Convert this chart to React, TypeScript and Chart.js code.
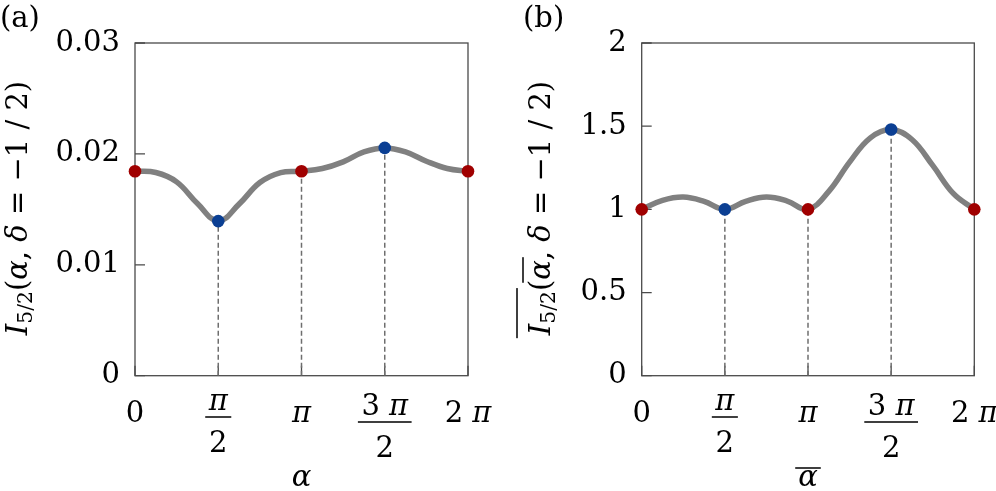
import React, { useEffect, useRef } from "react";
import { Chart, registerables } from "chart.js";

Chart.register(...registerables);

// ---------- data (α values in units of π) ----------
const ALPHA = [0, 0.125, 0.25, 0.375, 0.5, 0.625, 0.75, 0.875, 1, 1.125, 1.25, 1.375, 1.5, 1.625, 1.75, 1.875, 2];
const CURVE_A = [0.01844, 0.01832, 0.01748, 0.01553, 0.01394, 0.01547, 0.01742, 0.01832, 0.01844, 0.01868, 0.01928, 0.02018, 0.02054, 0.02018, 0.01934, 0.01868, 0.01844];
const CURVE_B = [1.0, 1.054, 1.074, 1.048, 1.0, 1.048, 1.074, 1.05, 1.0, 1.108, 1.284, 1.43, 1.48, 1.42, 1.264, 1.094, 1.0];

const RED_X = [0, 1, 2];
const RED_A = [0.01844, 0.01844, 0.01844];
const RED_B = [1.0, 1.0, 1.0];
const BLUE_X = [0.5, 1.5];
const BLUE_A = [0.01394, 0.02054];
const BLUE_B = [1.0, 1.48];
const DROP_X = [0.5, 1, 1.5];
const DROP_A = [0.01394, 0.01844, 0.02054];
const DROP_B = [1.0, 1.0, 1.48];

const X_TICKS = [0, 0.5, 1, 1.5, 2];
const X_TICK_NUM = ["0", "π", "π", "3 π", "2 π"];
const X_TICK_DEN = ["", "2", "", "2", ""];
const Y_TICKS_A = [0, 0.01, 0.02, 0.03];
const Y_LABELS_A = ["0", "0.01", "0.02", "0.03"];
const Y_TICKS_B = [0, 0.5, 1, 1.5, 2];
const Y_LABELS_B = ["0", "0.5", "1", "1.5", "2"];

// ---------- styling ----------
const FAM = '"DejaVu Serif", "Liberation Serif", serif';
const FS = 29;
const RED = "#a00000";
const BLUE = "#0b3f93";
const CURVE = "#808080";
const W = 498;
const H = 491;

type Run = { t: string; it?: boolean; sub?: boolean; ov?: number };

interface PanelSpec {
  tag: string;
  tagX: number;
  curve: number[];
  redY: number[];
  blueY: number[];
  dropY: number[];
  yTicks: number[];
  yLabels: string[];
  yMax: number;
  plotLeft: number;
  plotRight: number;
  yTitle: Run[];
  yTitleX: number;
  xTitle: Run[];
}

const SPEC_A: PanelSpec = {
  tag: "(a)",
  tagX: 0,
  curve: CURVE_A,
  redY: RED_A,
  blueY: BLUE_A,
  dropY: DROP_A,
  yTicks: Y_TICKS_A,
  yLabels: Y_LABELS_A,
  yMax: 0.03,
  plotLeft: 135,
  plotRight: 468,
  yTitle: [{ t: "I", it: true }, { t: "5/2", sub: true }, { t: "(α, δ = −1 / 2)" }],
  yTitleX: 27,
  xTitle: [{ t: "α" }],
};

const SPEC_B: PanelSpec = {
  tag: "(b)",
  tagX: 25,
  curve: CURVE_B,
  redY: RED_B,
  blueY: BLUE_B,
  dropY: DROP_B,
  yTicks: Y_TICKS_B,
  yLabels: Y_LABELS_B,
  yMax: 2,
  plotLeft: 143.7,
  plotRight: 476.3,
  yTitle: [
    { t: "I", it: true, ov: -33 },
    { t: "5/2", sub: true, ov: -33 },
    { t: "(" },
    { t: "α", ov: -27 },
    { t: ", δ = −1 / 2)" },
  ],
  yTitleX: 52,
  xTitle: [{ t: "α", ov: -18 }],
};

function pieceFont(size: number, italic: boolean) {
  return `${italic ? "italic " : ""}${size}px ${FAM}`;
}

function layoutMath(ctx: CanvasRenderingContext2D, runs: Run[], size: number) {
  const pieces: { t: string; font: string; x: number; dy: number }[] = [];
  const overs: { s: number; e: number; ov: number }[] = [];
  let x = 0;
  for (const r of runs) {
    const sz = r.sub ? size * 0.7 : size;
    const dy = r.sub ? size * 0.18 : 0;
    const chunks = r.t.match(/[α-ω]+|[^α-ω]+/g) || [];
    const start = x;
    for (const c of chunks) {
      const it = !!r.it || /[α-ω]/.test(c);
      const font = pieceFont(sz, it);
      ctx.font = font;
      const w = ctx.measureText(c).width;
      pieces.push({ t: c, font, x, dy });
      x += w;
    }
    if (r.ov !== undefined) {
      const last = overs[overs.length - 1];
      if (last && last.ov === r.ov && last.e === start) last.e = x;
      else overs.push({ s: start, e: x, ov: r.ov });
    }
  }
  return { pieces, overs, width: x };
}

function drawMath(
  ctx: CanvasRenderingContext2D,
  runs: Run[],
  size: number,
  x: number,
  y: number,
  align: "left" | "center"
) {
  const L = layoutMath(ctx, runs, size);
  const x0 = align === "center" ? x - L.width / 2 : x;
  ctx.textAlign = "left";
  ctx.textBaseline = "alphabetic";
  ctx.fillStyle = "#000";
  for (const p of L.pieces) {
    ctx.font = p.font;
    ctx.fillText(p.t, x0 + p.x, y + p.dy);
  }
  for (const o of L.overs) {
    ctx.fillRect(x0 + o.s - 3, y + o.ov - 0.75, o.e - o.s + 6, 1.5);
  }
}

function makeOverlay(spec: PanelSpec) {
  return {
    id: "overlay",
    beforeDatasetsDraw(chart: any) {
      const { ctx, chartArea: a } = chart;
      const xs = chart.scales.x;
      const ys = chart.scales.y;
      ctx.save();
      ctx.strokeStyle = "#4a4a4a";
      ctx.lineWidth = 1.3;
      ctx.strokeRect(a.left, a.top, a.right - a.left, a.bottom - a.top);
      ctx.beginPath();
      for (const v of spec.yTicks) {
        const py = ys.getPixelForValue(v);
        ctx.moveTo(a.left, py);
        ctx.lineTo(a.left + 10, py);
      }
      for (const v of X_TICKS) {
        const px = xs.getPixelForValue(v);
        ctx.moveTo(px, a.bottom);
        ctx.lineTo(px, a.bottom - 10);
      }
      ctx.stroke();
      ctx.restore();
    },
    afterDraw(chart: any) {
      const { ctx, chartArea: a } = chart;
      const xs = chart.scales.x;
      ctx.save();
      // x tick labels
      for (let i = 0; i < X_TICKS.length; i++) {
        const px = xs.getPixelForValue(X_TICKS[i]);
        const num: Run[] = [{ t: X_TICK_NUM[i] }];
        if (!X_TICK_DEN[i]) {
          drawMath(ctx, num, FS, px, 422, "center");
        } else {
          const hasDigit = /[0-9]/.test(X_TICK_NUM[i]);
          const numBase = hasDigit ? 415 : 410;
          const bar = numBase + 7;
          const Ln = layoutMath(ctx, num, FS);
          const Ld = layoutMath(ctx, [{ t: X_TICK_DEN[i] }], FS);
          const bw = Math.max(Ln.width, Ld.width) + 7;
          drawMath(ctx, num, FS, px, numBase, "center");
          ctx.fillRect(px - bw / 2, bar - 0.75, bw, 1.5);
          drawMath(ctx, [{ t: X_TICK_DEN[i] }], FS, px, bar + 35, "center");
        }
      }
      // x title
      drawMath(ctx, spec.xTitle, FS, (a.left + a.right) / 2, 486, "center");
      // y title (rotated)
      ctx.save();
      ctx.translate(spec.yTitleX, 208);
      ctx.rotate(-Math.PI / 2);
      drawMath(ctx, spec.yTitle, FS, 0, 0, "center");
      ctx.restore();
      // panel tag
      ctx.font = pieceFont(FS, false);
      ctx.fillStyle = "#000";
      ctx.textAlign = "left";
      ctx.textBaseline = "alphabetic";
      ctx.fillText(spec.tag, spec.tagX, 27);
      ctx.restore();
    },
  };
}

function buildConfig(spec: PanelSpec): any {
  const drops = DROP_X.map((x, i) => ({
    data: [
      { x, y: 0 },
      { x, y: spec.dropY[i] },
    ],
    borderColor: "#6e6e6e",
    borderWidth: 1.5,
    borderDash: [5, 3],
    pointRadius: 0,
    fill: false,
    order: 4,
  }));
  return {
    type: "line",
    data: {
      datasets: [
        ...drops,
        {
          data: ALPHA.map((x, i) => ({ x, y: spec.curve[i] })),
          borderColor: CURVE,
          borderWidth: 5.5,
          pointRadius: 0,
          fill: false,
          tension: 0.4,
          clip: false,
          order: 3,
        },
        {
          data: RED_X.map((x, i) => ({ x, y: spec.redY[i] })),
          showLine: false,
          pointRadius: 6.3,
          pointHoverRadius: 6.3,
          pointBorderWidth: 0,
          pointBackgroundColor: RED,
          clip: false,
          order: 1,
        },
        {
          data: BLUE_X.map((x, i) => ({ x, y: spec.blueY[i] })),
          showLine: false,
          pointRadius: 6.3,
          pointHoverRadius: 6.3,
          pointBorderWidth: 0,
          pointBackgroundColor: BLUE,
          clip: false,
          order: 2,
        },
      ],
    },
    options: {
      animation: false,
      responsive: false,
      maintainAspectRatio: false,
      events: [],
      layout: { padding: { left: 0, top: 43, right: W - spec.plotRight, bottom: 0 } },
      plugins: { legend: { display: false }, tooltip: { enabled: false } },
      scales: {
        x: {
          type: "linear",
          min: 0,
          max: 2,
          grid: { display: false },
          border: { display: false },
          ticks: { display: false },
          afterFit: (s: any) => {
            s.height = H - 375.7;
          },
        },
        y: {
          type: "linear",
          min: 0,
          max: spec.yMax,
          grid: { display: false, drawTicks: false },
          border: { display: false },
          afterBuildTicks: (s: any) => {
            s.ticks = spec.yTicks.map((v) => ({ value: v }));
          },
          ticks: {
            color: "#000",
            padding: 15,
            font: { family: FAM, size: FS },
            callback: (v: number) => {
              const i = spec.yTicks.findIndex((t) => Math.abs(t - v) < 1e-9);
              return i >= 0 ? spec.yLabels[i] : "";
            },
          },
          afterFit: (s: any) => {
            s.width = spec.plotLeft;
          },
        },
      },
    },
    plugins: [makeOverlay(spec)],
  };
}

function Panel({ spec, left }: { spec: PanelSpec; left: number }) {
  const ref = useRef<HTMLCanvasElement>(null);
  useEffect(() => {
    const chart = new Chart(ref.current as HTMLCanvasElement, buildConfig(spec));
    return () => chart.destroy();
  }, [spec]);
  return (
    <canvas
      ref={ref}
      width={W}
      height={H}
      style={{ position: "absolute", left, top: 0, width: W, height: H }}
    />
  );
}

export default function App() {
  return (
    <div
      style={{
        position: "fixed",
        left: 0,
        top: 0,
        width: 996,
        height: 491,
        background: "#fff",
        overflow: "hidden",
      }}
    >
      <Panel spec={SPEC_A} left={0} />
      <Panel spec={SPEC_B} left={498} />
    </div>
  );
}
